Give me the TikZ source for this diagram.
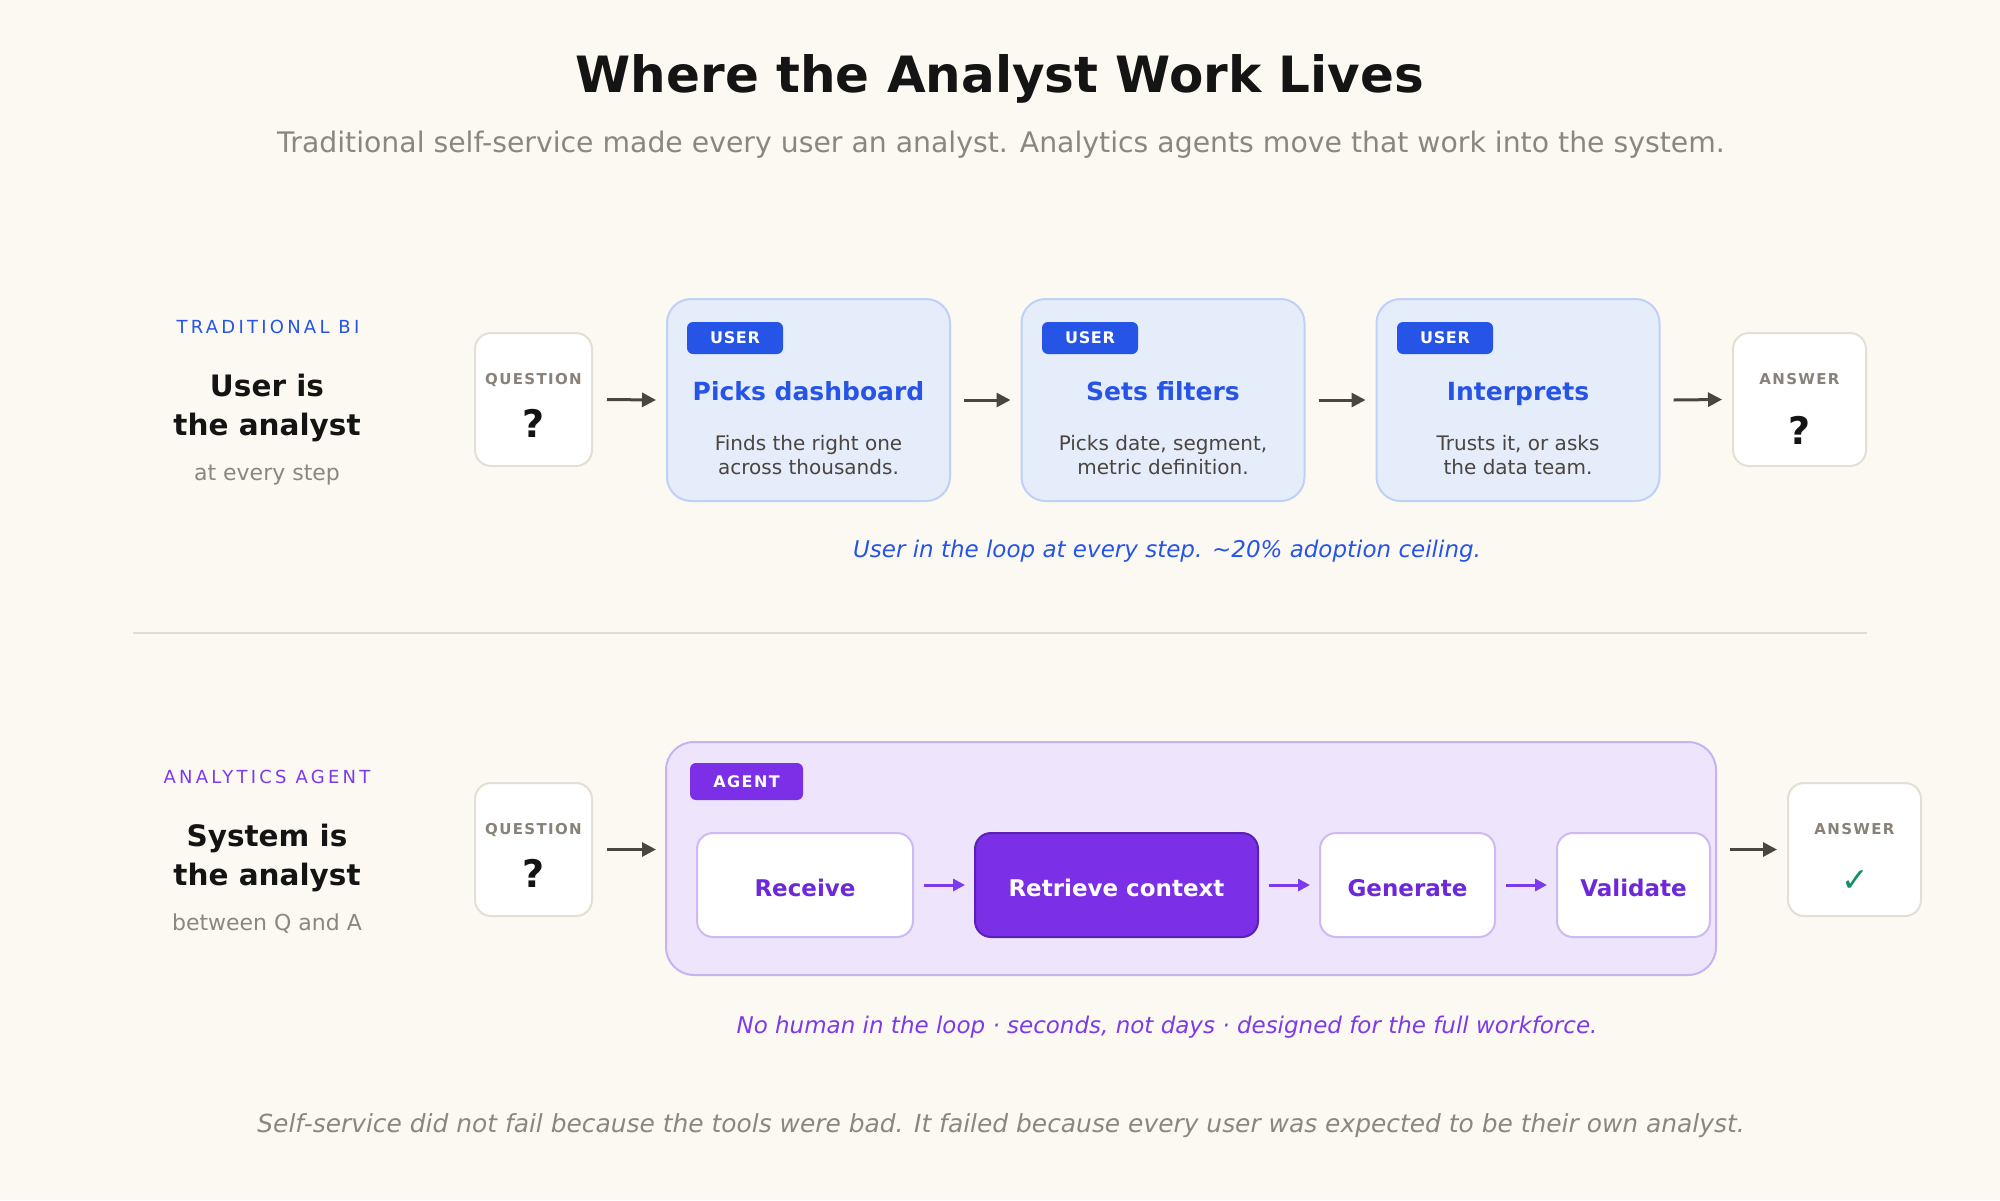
\documentclass[tikz,border=0pt]{standalone}
\usepackage{fontspec}
\setmainfont{DejaVu Sans}
\usetikzlibrary{arrows.meta,calc}
\definecolor{bgc}{HTML}{FCF9F2}
\definecolor{titlec}{HTML}{141414}
\definecolor{subc}{HTML}{8C877E}
\definecolor{labc}{HTML}{8A8178}
\definecolor{descc}{HTML}{4A4540}
\definecolor{arrc}{HTML}{4A4540}
\definecolor{bluec}{HTML}{2554E6}
\definecolor{bluefill}{HTML}{E5ECFA}
\definecolor{blueline}{HTML}{BED1F6}
\definecolor{purc}{HTML}{7C3AED}
\definecolor{purtext}{HTML}{6D28D9}
\definecolor{purfill}{HTML}{EEE5FC}
\definecolor{purline}{HTML}{C6B3F3}
\definecolor{stepline}{HTML}{CDB9F5}
\definecolor{purdark}{HTML}{7B2FE7}
\definecolor{purdarkline}{HTML}{5B21B6}
\definecolor{qaline}{HTML}{E4DFD4}
\definecolor{sepc}{HTML}{E2DDD4}
\definecolor{greenc}{HTML}{0F8F6A}
\newcommand\fsz[1]{\fontsize{#1}{#1}\selectfont}
\begin{document}
\begin{tikzpicture}[x=1pt,y=-1pt,
  txt/.style={inner sep=0pt, outer sep=0pt, anchor=base},
  qabox/.style={draw=qaline, fill=white, line width=2pt, rounded corners=16pt, minimum height=133pt, inner sep=0pt, outer sep=0pt},
  userbox/.style={draw=blueline, fill=bluefill, line width=2pt, rounded corners=24pt, minimum width=283pt, minimum height=202pt, inner sep=0pt, outer sep=0pt},
  badgeu/.style={fill=bluec, rounded corners=6pt, minimum width=96pt, minimum height=32pt, inner sep=0pt, text=white, font=\bfseries\fsz{16}\addfontfeature{LetterSpace=4}},
  badgea/.style={fill=purdark, rounded corners=6pt, minimum width=113pt, minimum height=37pt, inner sep=0pt, text=white, font=\bfseries\fsz{16}\addfontfeature{LetterSpace=9}},
  contbox/.style={draw=purline, fill=purfill, line width=2pt, rounded corners=28pt, minimum width=1050pt, minimum height=233pt, inner sep=0pt, outer sep=0pt},
  stepbox/.style={draw=stepline, fill=white, line width=2pt, rounded corners=16pt, minimum height=104pt, inner sep=0pt, outer sep=0pt, text height=22pt, text depth=0pt, text=purtext, font=\bfseries\fsz{23}},
  stepdark/.style={draw=purdarkline, fill=purdark, line width=2pt, rounded corners=16pt, minimum height=104pt, inner sep=0pt, outer sep=0pt, text height=22pt, text depth=0pt, text=white, font=\bfseries\fsz{23}},
  arr/.style={draw=arrc, line width=3pt, -{Triangle[length=14pt,width=14pt]}},
  parr/.style={draw=purc, line width=3pt, -{Triangle[length=12pt,width=12pt]}},
  smalllab/.style={txt, text=labc, font=\bfseries\fsz{15}\addfontfeature{LetterSpace=9}},
  qmark/.style={txt, text=titlec, font=\bfseries\fsz{38}},
  steptitle/.style={txt, text=bluec, font=\bfseries\fsz{25}},
  desc/.style={txt, text=descc, font=\fsz{20}},
  rowlab/.style={txt, font=\fsz{18}\addfontfeature{LetterSpace=18}},
  rowhead/.style={txt, text=titlec, font=\bfseries\fsz{29.5}},
  rowsub/.style={txt, text=subc, font=\fsz{22}}
]
\fill[bgc] (0,0) rectangle (2000,1200);
\useasboundingbox (0,0) rectangle (2000,1200);

% title
\node[txt, text=titlec, font=\bfseries\fsz{50}] (title) at (1000,92) {Where the Analyst Work Lives};
\node[txt, text=subc, font=\fsz{28.3}] (subtitle) at (1001,152) {Traditional self-service made every user an analyst. Analytics agents move that work into the system.};

% ---------- Traditional BI row ----------
\node[rowlab, text=bluec] (lab1) at (268,333) {TRADITIONAL BI};
\node[rowhead] (h1a) at (267,396) {User is};
\node[rowhead] (h1b) at (267,435) {the analyst};
\node[rowsub] (s1) at (267,480) {at every step};

\node[qabox, minimum width=117pt] (q1) at (533.5,399.5) {};
\node[smalllab] (q1l) at (533.5,384) {QUESTION};
\node[qmark] (q1m) at (533.5,437) {?};

\node[userbox] (b1) at (808.5,400) {};
\node[userbox] (b2) at (1163,400) {};
\node[userbox] (b3) at (1518,400) {};

\node[badgeu] (u1) at (735,338) {USER};
\node[badgeu] (u2) at (1090,338) {USER};
\node[badgeu] (u3) at (1445,338) {USER};

\node[steptitle] (t1) at (808.5,400) {Picks dashboard};
\node[desc] (d1a) at (808.5,450) {Finds the right one};
\node[desc] (d1b) at (808.5,474) {across thousands.};

\node[steptitle] (t2) at (1163,400) {Sets filters};
\node[desc] (d2a) at (1163,450) {Picks date, segment,};
\node[desc] (d2b) at (1163,474) {metric definition.};

\node[steptitle] (t3) at (1518,400) {Interprets};
\node[desc] (d3a) at (1518,450) {Trusts it, or asks};
\node[desc] (d3b) at (1518,474) {the data team.};

\node[qabox, minimum width=133pt] (a1) at (1799.5,399.5) {};
\node[smalllab] (a1l) at (1799.5,384) {ANSWER};
\node[qmark] (a1m) at (1799.5,444) {?};

\draw[arr] ([xshift=15pt]q1.east) -- ([xshift=-11pt]b1.west);
\draw[arr] ([xshift=14pt]b1.east) -- ([xshift=-11pt]b2.west);
\draw[arr] ([xshift=14pt]b2.east) -- ([xshift=-11pt]b3.west);
\draw[arr] ([xshift=14pt]b3.east) -- ([xshift=-11pt]a1.west);

\node[txt, text=bluec, font=\itshape\fsz{23}] (cap1) at (1167,557) {User in the loop at every step. \textasciitilde20\% adoption ceiling.};

% separator
\draw[sepc, line width=2pt] (133,633) -- (1867,633);

% ---------- Analytics agent row ----------
\node[rowlab, text=purc] (lab2) at (267,783) {ANALYTICS AGENT};
\node[rowhead] (h2a) at (267,846) {System is};
\node[rowhead] (h2b) at (267,885) {the analyst};
\node[rowsub] (s2) at (267,930) {between Q and A};

\node[qabox, minimum width=117pt] (q2) at (533.5,849.5) {};
\node[smalllab] (q2l) at (533.5,834) {QUESTION};
\node[qmark] (q2m) at (533.5,887) {?};

\node[contbox] (agent) at (1191,858.5) {};
\node[badgea] (ab) at (746.5,781.5) {AGENT};

\node[stepbox, minimum width=216pt] (r1) at (805,885) {Receive};
\node[stepdark, minimum width=283pt] (r2) at (1116.5,885) {Retrieve context};
\node[stepbox, minimum width=175pt] (r3) at (1407.5,885) {Generate};
\node[stepbox, minimum width=153pt] (r4) at (1633.5,885) {Validate};

\draw[parr] ([xshift=11pt]r1.east) -- ([xshift=-10pt]r2.west);
\draw[parr] ([xshift=11pt]r2.east) -- ([xshift=-10pt]r3.west);
\draw[parr] ([xshift=11pt]r3.east) -- ([xshift=-10pt]r4.west);

\node[qabox, minimum width=133pt] (a2) at (1854.5,849.5) {};
\node[smalllab] (a2l) at (1854.5,834) {ANSWER};
\node[txt, text=greenc, font=\fsz{33}] (a2m) at (1855,891) {✓};

\draw[arr] ([xshift=15pt]q2.east) -- ([xshift=-10pt]agent.west |- q2.east);
\draw[arr] ($(agent.east |- a2.west)+(14,0)$) -- ([xshift=-11pt]a2.west);

\node[txt, text=purc, font=\itshape\fsz{23}] (cap2) at (1167,1033) {No human in the loop · seconds, not days · designed for the full workforce.};

\node[txt, text=subc, font=\itshape\fsz{24.9}] (foot) at (1001,1132) {Self-service did not fail because the tools were bad. It failed because every user was expected to be their own analyst.};
\end{tikzpicture}
\end{document}
